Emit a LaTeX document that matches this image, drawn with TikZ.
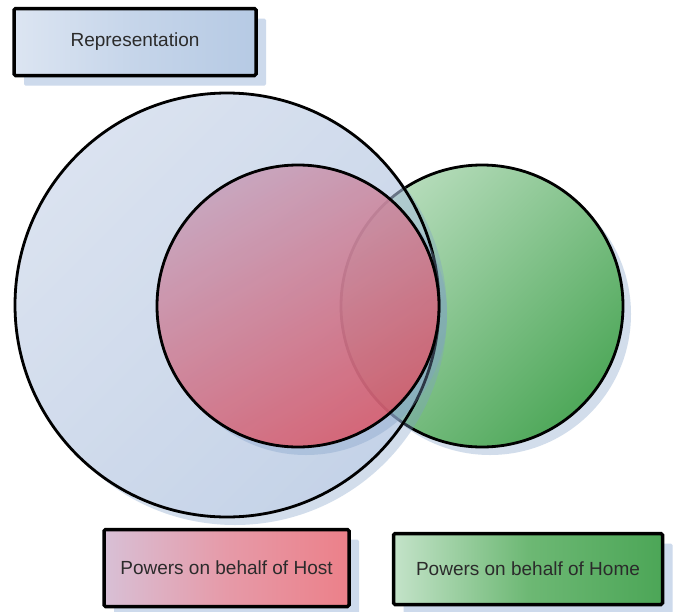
\documentclass[tikz,border=0pt]{standalone}
\usepackage{fontspec}
\setmainfont{Liberation Sans}
\usetikzlibrary{shadows}
\definecolor{shadowblue}{HTML}{7F9FC8}
\definecolor{boxshadow}{HTML}{C8D6EA}
\definecolor{repTop}{HTML}{DCE5F2}
\definecolor{repBot}{HTML}{B6CAE4}
\definecolor{hostTop}{HTML}{D8C0D6}
\definecolor{hostMid}{HTML}{E69AA8}
\definecolor{hostBot}{HTML}{EC8089}
\definecolor{homeTop}{HTML}{C4E3C9}
\definecolor{homeMid}{HTML}{6DB874}
\definecolor{homeBot}{HTML}{4CA657}
\definecolor{bigTop}{HTML}{C3D0E6}
\definecolor{bigBot}{HTML}{9EB6D9}
\definecolor{redTop}{HTML}{C79CB6}
\definecolor{redBot}{HTML}{D75566}
\definecolor{grnTop}{HTML}{B6DCBB}
\definecolor{grnBot}{HTML}{4FA85A}
\definecolor{txt}{HTML}{2B2B2B}
\tikzset{
  labelbox/.style={rectangle, draw=black, line width=3.5pt, rounded corners=1.5pt,
    inner sep=0pt, text=txt, font=\fontsize{19}{22}\selectfont,
    drop shadow={shadow xshift=10pt, shadow yshift=-10pt, fill=boxshadow, opacity=0.9}},
  setcircle/.style={circle, draw=black, line width=2.8pt, inner sep=0pt},
  circshadow/.style={fill=shadowblue, fill opacity=0.35},
}
\begin{document}
\begin{tikzpicture}[x=1pt,y=-1pt]
\useasboundingbox[fill=white] (0,0) rectangle (675,611);

\coordinate (cHome) at (482,306);
\coordinate (cRep) at (227,305);
\coordinate (cHost) at (298,306);

% top label box
\node[labelbox, minimum width=242pt, minimum height=67pt,
      left color=repTop, right color=repBot, middle color=repTop!40!repBot] (repbox) at (135,42) {Representation};

% green circle (Home) with its shadow
\begin{scope}[even odd rule]
  \clip (-20,-20) rectangle (700,640) (cHome) circle[radius=141pt];
  \fill[circshadow] ([shift={(8pt,-8pt)}]cHome) circle[radius=141pt];
\end{scope}
\node[setcircle, minimum size=282pt, top color=grnTop, bottom color=grnBot, shading angle=45] (home) at (cHome) {};

% big blue circle (Representation) with its shadow
\begin{scope}[even odd rule]
  \clip (-20,-20) rectangle (700,640) (cRep) circle[radius=212pt];
  \fill[circshadow] ([shift={(8pt,-8pt)}]cRep) circle[radius=212pt];
\end{scope}
\node[setcircle, minimum size=424pt, top color=bigTop, bottom color=bigBot, shading angle=45,
      fill opacity=0.6, draw opacity=1] (rep) at (cRep) {};

% red circle (Host) with its shadow
\begin{scope}[even odd rule]
  \clip (-20,-20) rectangle (700,640) (cHost) circle[radius=141pt];
  \fill[circshadow] ([shift={(8pt,-8pt)}]cHost) circle[radius=141pt];
\end{scope}
\node[setcircle, minimum size=282pt, top color=redTop, bottom color=redBot, shading angle=30,
      fill opacity=0.85, draw opacity=1] (host) at (cHost) {};

% bottom label boxes
\node[labelbox, minimum width=245pt, minimum height=77pt,
      left color=hostTop, right color=hostBot, middle color=hostMid] (hostbox) at (226.5,568) {Powers on behalf of Host};
\node[labelbox, minimum width=269pt, minimum height=71pt,
      left color=homeTop, right color=homeBot, middle color=homeMid] (homebox) at (528,569) {Powers on behalf of Home};
\end{tikzpicture}
\end{document}
